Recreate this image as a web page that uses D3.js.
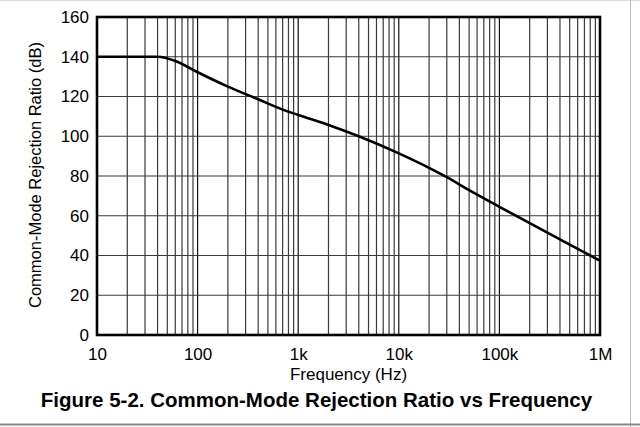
<!DOCTYPE html>
<html>
<head>
<meta charset="utf-8">
<script src="https://cdn.jsdelivr.net/npm/d3@7"></script>
<style>
  html, body { margin: 0; padding: 0; background: #fff; }
  svg { display: block; }
  text { font-family: "Liberation Sans", Arial, sans-serif; fill: #000; }
</style>
</head>
<body>
<svg id="chart" width="640" height="427"></svg>
<script>
// CMRR curve (Hz, dB)
var freq = [10, 40, 60, 100, 200, 400, 700, 1000, 2000, 4000, 10000, 20000, 30000, 50000, 100000, 200000, 500000, 1000000];
var cmrr = [140, 140, 137.9, 132.2, 125, 118.6, 113.4, 110.7, 105.7, 100, 91.4, 84.1, 79.4, 72.9, 64.5, 56.3, 45.5, 37.4];

var xTicks = [10, 100, 1000, 10000, 100000, 1000000];
var xTickLabels = ["10", "100", "1k", "10k", "100k", "1M"];
var yTicks = [0, 20, 40, 60, 80, 100, 120, 140, 160];

var svg = d3.select("#chart");
var margin = {top: 17, right: 40, bottom: 92, left: 97},
    width = 640 - margin.left - margin.right,
    height = 427 - margin.top - margin.bottom;

// window frame bits
svg.append("line").attr("x1", 0).attr("x2", 640).attr("y1", 0.5).attr("y2", 0.5)
    .attr("stroke", "#ddd").attr("stroke-width", 1);
svg.append("line").attr("x1", 630.5).attr("x2", 630.5).attr("y1", 0).attr("y2", 427)
    .attr("stroke", "#bbb").attr("stroke-width", 1);
svg.append("line").attr("x1", 0).attr("x2", 640).attr("y1", 424.5).attr("y2", 424.5)
    .attr("stroke", "#888").attr("stroke-width", 2);

var g = svg.append("g").attr("transform", "translate(" + margin.left + "," + margin.top + ")");

var x = d3.scaleLog()
    .domain([10, 1e6])
    .range([0, width]);

var y = d3.scaleLinear()
    .domain([0, 160])
    .range([height, 0]);

// minor + decade vertical grid
var vGrid = [];
for (var dec = 10; dec < 1e6; dec *= 10) {
  for (var m = 1; m < 10; m++) vGrid.push(dec * m);
}

g.append("g")
    .attr("class", "grid grid--x")
  .selectAll("line")
  .data(vGrid)
  .enter().append("line")
    .attr("x1", function(d) { return x(d); })
    .attr("x2", function(d) { return x(d); })
    .attr("y1", 0)
    .attr("y2", height)
    .attr("stroke", function(d) { return xTicks.indexOf(d) >= 0 ? "#111" : "#3a3a3a"; })
    .attr("stroke-width", 1.2);

g.append("g")
    .attr("class", "grid grid--y")
  .selectAll("line")
  .data(yTicks)
  .enter().append("line")
    .attr("x1", 0)
    .attr("x2", width)
    .attr("y1", function(d) { return y(d); })
    .attr("y2", function(d) { return y(d); })
    .attr("stroke", "#3a3a3a")
    .attr("stroke-width", 1.2);

// axes (labels only, the frame is drawn separately)
g.append("g")
    .attr("class", "axis axis--x")
    .attr("transform", "translate(0," + height + ")")
    .call(d3.axisBottom(x)
      .tickValues(xTicks)
      .tickFormat(function(d, i) { return xTickLabels[i]; })
      .tickSize(0)
      .tickPadding(13));

g.append("g")
    .attr("class", "axis axis--y")
    .call(d3.axisLeft(y)
      .tickValues(yTicks)
      .tickSize(0)
      .tickPadding(8));

g.selectAll(".axis .domain").remove();
g.selectAll(".axis text")
    .style("font-family", "'Liberation Sans', Arial, sans-serif")
    .style("font-size", "17px")
    .attr("fill", "#000");

// curve
var line = d3.line()
    .curve(d3.curveMonotoneX)
    .x(function(d, i) { return x(freq[i]); })
    .y(function(d) { return y(d); });

g.append("path")
    .datum(cmrr)
    .attr("class", "line")
    .attr("fill", "none")
    .attr("stroke", "#000")
    .attr("stroke-width", 2.6)
    .attr("d", line);

// frame
g.append("rect")
    .attr("width", width)
    .attr("height", height)
    .attr("fill", "none")
    .attr("stroke", "#000")
    .attr("stroke-width", 2.6);

// titles
g.append("text")
    .attr("x", width / 2)
    .attr("y", height + 45)
    .attr("text-anchor", "middle")
    .style("font-size", "17px")
    .text("Frequency (Hz)");

g.append("text")
    .attr("transform", "translate(" + (-56) + "," + (height / 2 - 1) + ") rotate(-90)")
    .attr("text-anchor", "middle")
    .style("font-size", "16.5px")
    .text("Common-Mode Rejection Ratio (dB)");

svg.append("text")
    .attr("x", 316.5)
    .attr("y", 407)
    .attr("text-anchor", "middle")
    .style("font-size", "20.5px")
    .style("font-weight", "bold")
    .text("Figure 5-2. Common-Mode Rejection Ratio vs Frequency");
</script>
</body>
</html>
